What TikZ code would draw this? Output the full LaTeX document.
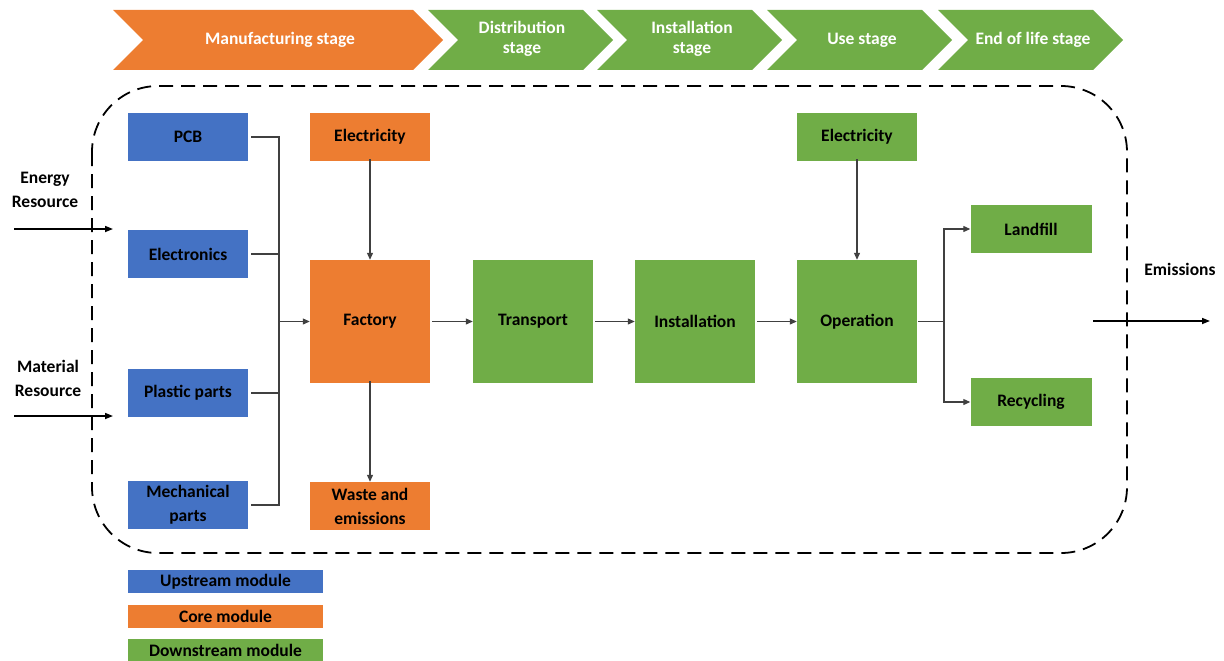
\documentclass[tikz,border=0pt]{standalone}
\usepackage{fontspec}
\setmainfont{Carlito}
\usetikzlibrary{arrows.meta}
\definecolor{cblue}{HTML}{4472C4}
\definecolor{corange}{HTML}{ED7D31}
\definecolor{cgreen}{HTML}{70AD47}
\definecolor{cline}{HTML}{404040}
\tikzset{
  box/.style={draw=none, inner sep=0pt, align=center, text=black,
    font=\fontsize{17.5}{24}\selectfont\bfseries},
  ubox/.style={box, fill=cblue},
  obox/.style={box, fill=corange},
  gbox/.style={box, fill=cgreen},
  lbl/.style={inner sep=0pt, align=center, text=black,
    font=\fontsize{17.5}{24}\selectfont\bfseries},
  conn/.style={draw=cline, line width=1.1pt},
  carr/.style={conn, -{Triangle[length=7pt,width=6pt]}},
  bigarr/.style={draw=black, line width=1.6pt, -{Triangle[length=8pt,width=6pt]}},
  bannertext/.style={inner sep=0pt, align=center, text=white,
    font=\fontsize{17.5}{20}\selectfont\bfseries},
}
\newcommand{\chevron}[3]{%
  \fill[#2] (#1,10) -- (#1+155,10) -- (#1+185,40) -- (#1+155,70) -- (#1,70) -- (#1+30,40) -- cycle;
}
\begin{document}
\begin{tikzpicture}[x=1pt,y=-1pt]
\useasboundingbox (0,0) rectangle (1224,661);
% banner
\fill[corange] (113,10) -- (413,10) -- (443,40) -- (413,70) -- (113,70) -- (143,40) -- cycle;
\node[bannertext] (s1) at (280,40) {Manufacturing stage};
\chevron{428}{cgreen}{}
\node[bannertext] (s2) at (522,39) {Distribution\\stage};
\chevron{597}{cgreen}{}
\node[bannertext] (s3) at (692,39) {Installation\\stage};
\chevron{767}{cgreen}{}
\node[bannertext] (s4) at (862,40) {Use stage};
\chevron{938}{cgreen}{}
\node[bannertext] (s5) at (1033,40) {End of life stage};
% system boundary
\draw[black, line width=1.8pt, dash pattern=on 14pt off 8pt, rounded corners=66pt] (92,86) rectangle (1127,553);
% upstream
\node[ubox, minimum width=120pt, minimum height=48pt] (pcb) at (188,137) {PCB};
\node[ubox, minimum width=120pt, minimum height=48pt] (elec) at (188,254) {Electronics};
\node[ubox, minimum width=120pt, minimum height=48pt] (plast) at (188,393) {Plastic parts};
\node[ubox, minimum width=120pt, minimum height=48pt] (mech) at (188,505) {Mechanical\\parts};
% core
\node[obox, minimum width=120pt, minimum height=48pt] (el1) at (370,137) {Electricity};
\node[obox, minimum width=120pt, minimum height=123pt] (fac) at (370,321.5) {Factory};
\node[obox, minimum width=120pt, minimum height=48pt] (waste) at (370,506) {Waste and\\emissions};
% downstream
\node[gbox, minimum width=120pt, minimum height=123pt] (trans) at (533,321.5) {Transport};
\node[gbox, minimum width=120pt, minimum height=123pt] (inst) at (695,321.5) {Installation};
\node[gbox, minimum width=120pt, minimum height=123pt] (oper) at (857,321.5) {Operation};
\node[gbox, minimum width=120pt, minimum height=48pt] (el2) at (857,137) {Electricity};
\node[gbox, minimum width=121pt, minimum height=48pt] (land) at (1031,229) {Landfill};
\node[gbox, minimum width=121pt, minimum height=48pt] (recy) at (1031,402) {Recycling};
% connectors upstream
\coordinate (jn) at (279,321.5);
\draw[conn] ([xshift=3pt]pcb.east) -| (jn);
\draw[conn] ([xshift=3pt]elec.east) -| (jn);
\draw[conn] ([xshift=3pt]plast.east) -| (jn);
\draw[conn] ([xshift=3pt]mech.east) -| (jn);
\draw[carr] (jn) -- (fac.west);
\draw[carr] ([yshift=2pt]el1.south) -- (fac.north);
\draw[carr] ([yshift=2pt]fac.south) -- (waste.north);
\draw[carr] ([xshift=2pt]fac.east) -- (trans.west);
\draw[carr] ([xshift=2pt]trans.east) -- (inst.west);
\draw[carr] ([xshift=2pt]inst.east) -- (oper.west);
\draw[carr] ([yshift=2pt]el2.south) -- (oper.north);
\coordinate (ej) at (944,321.5);
\draw[conn] ([xshift=1pt]oper.east) -- (ej);
\draw[carr] (ej) |- (land.west);
\draw[carr] (ej) |- (recy.west);
% external flows
\coordinate (ein) at (14,229);
\coordinate (eend) at (113,229);
\coordinate (min) at (14,416);
\coordinate (mend) at (113,416);
\draw[bigarr] (ein) -- (eend);
\draw[bigarr] (min) -- (mend);
\node[lbl] (elab) at (45,190) {Energy\\Resource};
\node[lbl] (mlab) at (48,378) {Material\\Resource};
\coordinate (oin) at (1093,321);
\coordinate (oend) at (1210,321);
\draw[bigarr] (oin) -- (oend);
\node[lbl] (olab) at (1180,269) {Emissions};
% legend
\node[ubox, minimum width=195pt, minimum height=23pt] (lg1) at (225.5,581.5) {Upstream module};
\node[obox, minimum width=195pt, minimum height=23pt] (lg2) at (225.5,616) {Core module};
\node[gbox, minimum width=195pt, minimum height=23pt] (lg3) at (225.5,650) {Downstream module};
\end{tikzpicture}
\end{document}
